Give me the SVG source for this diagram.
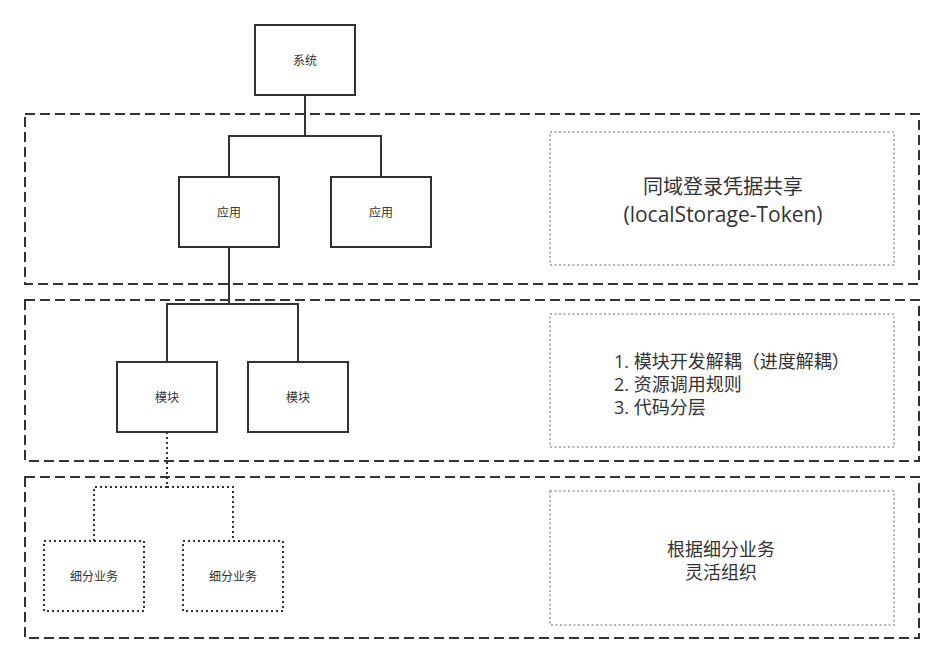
<svg xmlns="http://www.w3.org/2000/svg" width="944" height="664" viewBox="0 0 944 664">
<style>
.bg{fill:#ffffff}
.node{fill:#ffffff;stroke:#333333;stroke-width:2}
.dotnode{fill:#ffffff;stroke:#333333;stroke-width:2;stroke-dasharray:2 3}
.group{fill:none;stroke:#333333;stroke-width:2;stroke-dasharray:10 5}
.note{fill:none;stroke:#b3b3b3;stroke-width:2;stroke-dasharray:2 2.5}
.edge{fill:none;stroke:#333333;stroke-width:2}
.dotedge{fill:none;stroke:#333333;stroke-width:2;stroke-dasharray:2 3}
.lbl{font-family:"Open Sans","Noto Sans CJK SC",sans-serif;font-size:12px;fill:#333333;text-anchor:middle}
.big{font-family:"Open Sans","Noto Sans CJK SC",sans-serif;font-size:18px;fill:#333333}
.mid{text-anchor:middle}
</style>
<rect class="bg" x="0" y="0" width="944" height="664"/>
<g id="groups">
<rect id="layer-app" class="group" x="25" y="114" width="894" height="170"/>
<rect id="layer-module" class="group" x="25" y="300" width="894" height="161"/>
<rect id="layer-business" class="group" x="25" y="477" width="894" height="161"/>
</g>
<g id="connectors">
<path class="edge" d="M305 95 V136 H229 V177 M305 136 H381 V177"/>
<path class="edge" d="M229 247 V304 H167 V362 M229 304 H298 V362"/>
<path class="dotedge" d="M167 432 V487 H94 V541 M167 487 H233 V541"/>
</g>
<g id="node-system">
<rect class="node" x="255" y="25" width="100" height="70"/>
<text class="lbl" x="305" y="64.5">系统</text>
</g>
<g id="node-app1">
<rect class="node" x="179" y="177" width="100" height="70"/>
<text class="lbl" x="229" y="216.5">应用</text>
</g>
<g id="node-app2">
<rect class="node" x="331" y="177" width="100" height="70"/>
<text class="lbl" x="381" y="216.5">应用</text>
</g>
<g id="node-module1">
<rect class="node" x="117" y="362" width="100" height="70"/>
<text class="lbl" x="167" y="401.5">模块</text>
</g>
<g id="node-module2">
<rect class="node" x="248" y="362" width="100" height="70"/>
<text class="lbl" x="298" y="401.5">模块</text>
</g>
<g id="node-biz1">
<rect class="dotnode" x="44" y="541" width="100" height="70"/>
<text class="lbl" x="94" y="580.5">细分业务</text>
</g>
<g id="node-biz2">
<rect class="dotnode" x="183" y="541" width="100" height="70"/>
<text class="lbl" x="233" y="580.5">细分业务</text>
</g>
<g id="note-app">
<rect class="note" x="550" y="132" width="344" height="133"/>
<text class="big mid" x="723" y="194" style="font-size:20px">同域登录凭据共享</text>
<text class="big mid" x="723" y="222" style="font-size:21px">(localStorage-Token)</text>
</g>
<g id="note-module">
<rect class="note" x="550" y="314" width="344" height="133"/>
<text class="big" x="614" y="368">1. 模块开发解耦（进度解耦）</text>
<text class="big" x="614" y="391">2. 资源调用规则</text>
<text class="big" x="614" y="414">3. 代码分层</text>
</g>
<g id="note-business">
<rect class="note" x="550" y="491" width="344" height="134"/>
<text class="big mid" x="721" y="556">根据细分业务</text>
<text class="big mid" x="721" y="579">灵活组织</text>
</g>
</svg>
